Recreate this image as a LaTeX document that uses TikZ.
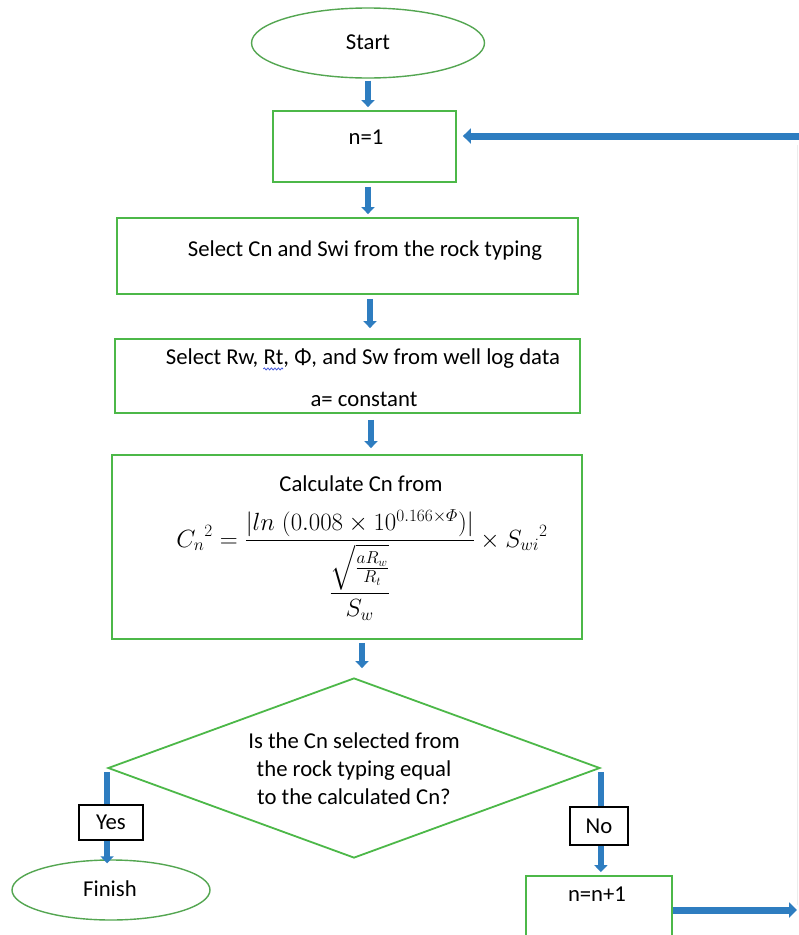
\documentclass[tikz,border=0pt]{standalone}
\usepackage{amsmath}
\usepackage{fontspec}
\setmainfont{Carlito}
\usetikzlibrary{shapes.geometric,arrows.meta,calc,decorations.pathmorphing}
\definecolor{gline}{RGB}{76,184,72}
\definecolor{bflow}{RGB}{46,125,192}
\definecolor{spell}{RGB}{70,90,220}
\newlength\wavestart
\newlength\waveend
\begin{document}
\settowidth{\wavestart}{\fontsize{22.7}{27}\selectfont Select Rw, }
\settowidth{\waveend}{\fontsize{22.7}{27}\selectfont Select Rw, Rt}
\begin{tikzpicture}[x=1pt,y=1pt,
  every node/.style={font=\fontsize{22.7}{27}\selectfont, inner sep=0pt},
  gbox/.style={draw=gline, line width=1.8pt, rectangle},
  term/.style={draw=gline!85!black!90, line width=1.4pt, ellipse},
  lab/.style={draw=black, line width=1.5pt, rectangle, fill=white},
  flow/.style={draw=bflow, line width=5.5pt, -{Triangle[width=13pt,length=7pt]}},
  hflow/.style={draw=bflow, line width=7pt, -{Triangle[width=15pt,length=8pt]}},
  plain/.style={draw=bflow, line width=5.5pt}]
\useasboundingbox (0,0) rectangle (799,-935);
\fill[white] (0,0) rectangle (799,-935);

% nodes
\node[term, minimum width=233pt, minimum height=70pt] (start) at (368,-43) {};
\node (starttxt) at (368,-42) {Start};

\node[gbox, minimum width=183pt, minimum height=71pt] (n1) at (364.5,-146.5) {};
\node (n1txt) at (366,-137) {n=1};

\node[gbox, minimum width=461pt, minimum height=76pt] (sel) at (347.5,-256) {};
\node (seltxt) at (365,-251) {Select Cn and Swi from the rock typing};

\node[gbox, minimum width=465pt, minimum height=74pt] (rw) at (347.5,-376) {};
\node (rwtxt1) at (363,-359) {Select Rw, Rt, Φ, and Sw from well log data};
\node (rwtxt2) at (364,-399) {a= constant};
\draw[spell, line width=0.8pt, decorate, decoration={snake, amplitude=1pt, segment length=3.5pt}]
  ($(rwtxt1.base west)+(\wavestart,-4)$) -- ($(rwtxt1.base west)+(\waveend,-4)$);

\node[gbox, minimum width=470pt, minimum height=184pt] (calc) at (347,-547) {};
\node (calctxt) at (361,-484) {Calculate Cn from};
\node[font=\fontsize{24}{28}\selectfont, anchor=base] (formula) at (362,-547) {$\displaystyle C_n{}^{2} = \frac{|ln\;(0.008\times 10^{0.166\times\varPhi})|}{\dfrac{\sqrt{\tfrac{aR_w}{R_t}}}{S_w}} \times S_{wi}{}^{2}$};

\node[gbox, diamond, minimum width=492pt, minimum height=180pt] (dec) at (354,-768) {};
\node[align=center, font=\fontsize{22.7}{28}\selectfont] (dectxt) at (354,-769) {Is the Cn selected from\\the rock typing equal\\to the calculated Cn?};

\node[term, minimum width=198pt, minimum height=60pt] (finish) at (111,-890) {};
\node (finishtxt) at (110,-889) {Finish};

\node[gbox, minimum width=146pt, minimum height=70pt] (nn1) at (599,-911) {};
\node (nn1txt) at (597,-894) {n=n+1};

\coordinate (rtop) at (800,-136);
\coordinate (rbot) at (797,-910);

% faint return line
\draw[gray!15, line width=1pt] (797,-145) -- (797,-905);

% connectors
\draw[flow, shorten <=2pt, shorten >=3pt] (start.south) -- (start.south |- n1.north);
\draw[flow, shorten <=4pt, shorten >=3pt] ([xshift=3.5pt]n1.south) -- ([xshift=3.5pt]n1.south |- sel.north);
\draw[flow, shorten <=4pt, shorten >=10pt] ([xshift=22.5pt]sel.south) -- ([xshift=22.5pt]sel.south |- rw.north);
\draw[flow, shorten <=6pt, shorten >=6pt] ([xshift=23.5pt]rw.south) -- ([xshift=23.5pt]rw.south |- calc.north);
\draw[flow, shorten <=3pt, shorten >=9pt] ([xshift=15pt]calc.south) -- ([xshift=15pt]calc.south |- dec.north);

\draw[plain, shorten <=4pt] (dec.west) -- (dec.west |- 0,-805);
\node[lab, minimum width=64pt, minimum height=35pt] (yes) at (111,-822.5) {Yes};
\draw[flow, shorten >=-4pt] (yes.south -| dec.west) -- (dec.west |- finish.north);

\draw[plain, shorten <=4pt] (dec.east) -- (dec.east |- 0,-807);
\node[lab, minimum width=58pt, minimum height=38pt] (no) at (599,-826) {No};
\draw[flow, shorten >=3pt] (no.south -| dec.east) -- (dec.east |- nn1.north);

\draw[hflow] (nn1.east |- rbot) -- (rbot);
\draw[hflow, shorten >=6pt] (rtop) -- (rtop -| n1.east);
\end{tikzpicture}
\end{document}
